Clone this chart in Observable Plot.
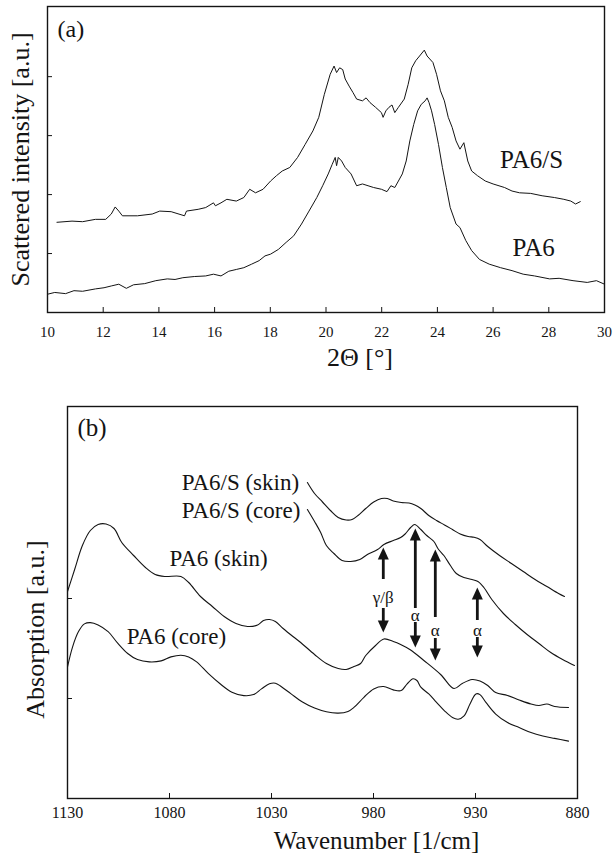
<!DOCTYPE html>
<html>
<head>
<meta charset="utf-8">
<script src="https://cdn.jsdelivr.net/npm/d3@7"></script>
<script src="https://cdn.jsdelivr.net/npm/@observablehq/plot@0.6"></script>
<style>
  body { margin: 0; background: #fff; }
  #fig { width: 615px; }
  #fig svg { display: block; }
</style>
</head>
<body>
<div id="fig"></div>
<script>
// ---------- (a) X-ray scattering: [2θ in degrees, intensity in a.u.] ----------
const pa6sScan = [
  [10.34,1.53],[10.88,1.55],[11.26,1.54],[11.72,1.58],[12.09,1.58],[12.29,1.67],[12.43,1.79],[12.56,1.72],
  [12.69,1.64],[13.23,1.64],[13.76,1.67],[14.03,1.72],[14.44,1.71],[14.92,1.64],[14.99,1.72],[15.41,1.75],
  [15.68,1.78],[15.96,1.86],[16.03,1.81],[16.23,1.86],[16.44,1.92],[16.78,1.89],[17.05,1.95],[17.26,2.09],
  [17.47,2.03],[17.74,2.09],[18.01,2.23],[18.22,2.32],[18.43,2.40],[18.70,2.46],[18.98,2.63],[19.25,2.85],
  [19.53,3.08],[19.74,3.31],[19.94,3.70],[20.15,4.04],[20.29,4.18],[20.38,4.07],[20.49,4.15],[20.60,4.12],
  [20.69,3.96],[20.83,3.84],[20.97,3.73],[21.10,3.62],[21.31,3.59],[21.44,3.64],[21.58,3.56],[21.78,3.48],
  [21.99,3.39],[22.05,3.31],[22.15,3.42],[22.26,3.48],[22.37,3.52],[22.47,3.39],[22.60,3.48],[22.81,3.62],
  [22.95,3.87],[23.08,4.15],[23.22,4.27],[23.36,4.35],[23.53,4.45],[23.63,4.35],[23.84,4.24],[23.97,4.04],
  [24.11,3.76],[24.25,3.59],[24.39,3.31],[24.53,3.14],[24.67,2.91],[24.81,2.77],[24.95,2.88],[25.09,2.57],
  [25.23,2.40],[25.44,2.32],[25.72,2.23],[26.00,2.18],[26.41,2.12],[26.68,2.06],[26.95,2.03],[27.35,2.02],
  [27.76,1.98],[28.20,1.95],[28.54,1.92],[28.79,1.89],[28.96,1.84],[29.13,1.88]
];
const pa6Scan = [
  [10.00,0.31],[10.26,0.34],[10.65,0.32],[10.95,0.37],[11.26,0.36],[11.72,0.40],[12.03,0.42],[12.29,0.45],
  [12.56,0.48],[12.83,0.41],[13.09,0.47],[13.49,0.49],[13.89,0.54],[14.30,0.57],[14.58,0.56],[14.86,0.59],
  [15.27,0.61],[15.68,0.62],[15.96,0.65],[16.23,0.62],[16.51,0.70],[16.78,0.73],[17.05,0.76],[17.33,0.82],
  [17.60,0.88],[17.81,0.96],[18.01,0.99],[18.29,1.07],[18.57,1.19],[18.84,1.30],[19.12,1.50],[19.39,1.72],
  [19.67,1.95],[19.88,2.15],[20.08,2.35],[20.22,2.51],[20.33,2.63],[20.38,2.49],[20.44,2.63],[20.56,2.57],
  [20.69,2.46],[20.90,2.35],[21.10,2.15],[21.31,2.18],[21.51,2.15],[21.71,2.12],[21.99,2.09],[22.19,2.05],
  [22.33,2.15],[22.47,2.12],[22.60,2.23],[22.74,2.35],[22.88,2.57],[23.01,2.91],[23.15,3.19],[23.29,3.42],
  [23.42,3.53],[23.56,3.59],[23.63,3.64],[23.70,3.56],[23.79,3.42],[23.90,3.19],[24.04,2.85],[24.18,2.46],
  [24.32,2.12],[24.46,1.78],[24.67,1.50],[24.81,1.44],[25.02,1.22],[25.23,1.05],[25.51,0.90],[25.86,0.82],
  [26.27,0.76],[26.68,0.71],[27.08,0.65],[27.49,0.62],[28.03,0.57],[28.37,0.58],[28.87,0.54],[29.38,0.51],
  [29.71,0.54],[30.00,0.48]
];
const thetaTicks = [10, 12, 14, 16, 18, 20, 22, 24, 26, 28, 30];
const intensityTicks = [1, 2, 3, 4];
const scanLabels = [
  {text: "PA6/S", theta: 26.25, intensity: 2.58},
  {text: "PA6", theta: 26.70, intensity: 1.10}
];

// ---------- (b) infrared absorption: [wavenumber in 1/cm, absorption in a.u.] ----------
const pa6sSkin = [
  [1012.4,3.16],[1008.9,3.05],[1005.0,2.965],[1001.1,2.88],[997.3,2.81],[993.4,2.785],[990.5,2.79],[987.6,2.83],
  [983.8,2.90],[979.9,2.965],[976.1,3.00],[973.2,3.00],[970.3,2.975],[966.4,2.96],[962.6,2.955],[959.7,2.935],
  [956.8,2.90],[952.9,2.83],[949.1,2.78],[945.2,2.736],[941.3,2.69],[937.5,2.645],[933.6,2.62],[930.7,2.612],
  [927.8,2.59],[924.0,2.52],[918.2,2.43],[912.4,2.35],[906.6,2.27],[900.8,2.19],[895.0,2.12],[889.3,2.05],[886.4,2.02]
];
const pa6sCore = [
  [1012.4,2.89],[1008.9,2.77],[1005.9,2.66],[1003.1,2.53],[999.4,2.45],[995.4,2.38],[991.2,2.37],[986.7,2.39],
  [983.0,2.44],[978.0,2.49],[974.9,2.54],[970.3,2.58],[966.7,2.61],[964.5,2.645],[961.8,2.71],[959.8,2.74],
  [956.8,2.69],[953.9,2.63],[950.4,2.57],[948.1,2.49],[945.5,2.43],[942.3,2.33],[939.4,2.25],[935.7,2.21],
  [931.7,2.19],[928.8,2.17],[925.9,2.11],[922.0,1.99],[916.3,1.85],[910.5,1.74],[904.7,1.64],[898.9,1.55],
  [893.1,1.46],[887.3,1.39],[881.5,1.33]
];
const pa6Skin = [
  [1130,2.07],[1126.5,2.29],[1122.7,2.53],[1118.8,2.68],[1115.0,2.74],[1111.1,2.745],[1107.2,2.70],[1103.4,2.56],
  [1097.6,2.43],[1091.8,2.31],[1087.0,2.24],[1082.2,2.22],[1074.4,2.22],[1070.6,2.16],[1064.8,2.02],[1059.0,1.92],
  [1053.2,1.82],[1047.4,1.75],[1041.7,1.72],[1036.8,1.735],[1033.9,1.78],[1031.0,1.79],[1028.1,1.77],[1024.3,1.70],
  [1019.5,1.62],[1015.7,1.56],[1008.9,1.44],[1003.1,1.35],[997.3,1.30],[993.4,1.29],[989.6,1.32],[986.3,1.35],
  [983.8,1.43],[979.0,1.53],[974.9,1.595],[970.3,1.57],[966.7,1.54],[961.8,1.485],[955.3,1.38],[947.1,1.24],
  [940.6,1.10],[936.5,1.15],[931.7,1.19],[927.8,1.175],[924.0,1.13],[920.1,1.06],[914.3,1.03],[908.6,0.985],
  [902.8,0.945],[898.9,0.93],[895.0,0.945],[891.2,0.92],[884.4,0.91]
];
const pa6Core = [
  [1130,1.315],[1127.5,1.517],[1124.6,1.669],[1121.7,1.746],[1118.8,1.759],[1115.0,1.736],[1110.1,1.669],[1105.3,1.551],
  [1100.5,1.450],[1095.7,1.389],[1089.9,1.366],[1084.1,1.376],[1079.3,1.416],[1074.4,1.433],[1070.6,1.416],[1066.7,1.366],
  [1060.9,1.248],[1055.2,1.147],[1049.4,1.063],[1043.6,1.029],[1038.8,1.039],[1034.9,1.096],[1031.0,1.147],[1028.1,1.153],
  [1025.3,1.120],[1020.4,1.046],[1014.6,0.962],[1008.9,0.904],[1003.1,0.867],[997.3,0.854],[992.5,0.871],[989.6,0.911],
  [984.7,1.012],[979.9,1.096],[975.1,1.120],[970.3,1.086],[966.4,1.079],[963.5,1.147],[960.6,1.197],[958.7,1.180],
  [956.8,1.113],[952.9,1.046],[949.1,0.961],[945.2,0.877],[941.3,0.810],[938.5,0.793],[935.6,0.827],[932.7,0.945],
  [929.8,1.046],[927.8,1.039],[924.9,0.961],[920.1,0.844],[914.3,0.759],[908.6,0.709],[902.8,0.659],[897.0,0.625],
  [891.2,0.601],[884.4,0.574]
];
const wavenumberTicks = [1130, 1080, 1030, 980, 930, 880];
const absorptionTicks = [1, 2];
const spectrumLabels = [
  {text: "PA6/S (skin)", wn: 1074, abs: 3.157},
  {text: "PA6/S (core)", wn: 1074, abs: 2.877},
  {text: "PA6 (skin)", wn: 1080, abs: 2.397},
  {text: "PA6 (core)", wn: 1101, abs: 1.617}
];
// band assignments: up arrow from upFrom to upTip, down arrow from downFrom to downTip
const bands = [
  {wn: 975.2, phase: "γ/β", upTip: 2.51, upFrom: 2.19, at: 2.01, downFrom: 1.90, downTip: 1.66},
  {wn: 959.5, phase: "α",   upTip: 2.70, upFrom: 1.90, at: 1.83, downFrom: 1.76, downTip: 1.51},
  {wn: 949.7, phase: "α",   upTip: 2.49, upFrom: 1.81, at: 1.68, downFrom: 1.60, downTip: 1.38},
  {wn: 929.1, phase: "α",   upTip: 2.11, upFrom: 1.78, at: 1.68, downFrom: 1.61, downTip: 1.41}
];

const serif = "Liberation Serif";
const ink = "#141414";
const txt = {fontFamily: serif, fill: ink};

const scans = [
  ...pa6sScan.map(([theta, intensity]) => ({sample: "PA6/S", theta, intensity})),
  ...pa6Scan.map(([theta, intensity]) => ({sample: "PA6", theta, intensity}))
];

const plotA = Plot.plot({
  width: 615, height: 380,
  marginLeft: 47, marginRight: 11, marginTop: 6, marginBottom: 68,
  style: {fontFamily: serif, color: ink, background: "#fff", overflow: "visible"},
  x: {domain: [10, 30], label: null},
  y: {domain: [0, 5.19], axis: null},
  marks: [
    Plot.ruleX(thetaTicks.slice(1, -1), {stroke: ink, insetTop: 301}),
    Plot.ruleY(intensityTicks, {stroke: ink, insetRight: 552}),
    Plot.frame({stroke: ink, strokeWidth: 1.4}),
    Plot.line(scans, {x: "theta", y: "intensity", z: "sample", stroke: ink, strokeWidth: 1}),
    Plot.axisX({ticks: thetaTicks, tickFormat: d => String(d), tickSize: 0, tickPadding: 14, fontSize: 15, ...txt, label: null}),
    Plot.text(scanLabels, {x: "theta", y: "intensity", text: "text", textAnchor: "start", lineAnchor: "middle", fontSize: 25, ...txt}),
    Plot.text(["(a)"], {frameAnchor: "top-left", dx: 10, dy: 23, textAnchor: "start", lineAnchor: "middle", fontSize: 24, ...txt}),
    Plot.text(["2Θ [°]"], {frameAnchor: "bottom", dx: 34, dy: 45, textAnchor: "middle", lineAnchor: "middle", fontSize: 26, ...txt}),
    Plot.text(["Scattered intensity [a.u.]"], {frameAnchor: "left", dx: -27, rotate: -90, textAnchor: "middle", lineAnchor: "middle", fontSize: 26, ...txt})
  ]
});

const spectra = [
  ...pa6sSkin.map(([wn, abs]) => ({sample: "PA6/S (skin)", wn, abs})),
  ...pa6sCore.map(([wn, abs]) => ({sample: "PA6/S (core)", wn, abs})),
  ...pa6Skin.map(([wn, abs]) => ({sample: "PA6 (skin)", wn, abs})),
  ...pa6Core.map(([wn, abs]) => ({sample: "PA6 (core)", wn, abs}))
];

// filled arrowhead with its tip at the origin, pointing up
const arrowHead = {
  draw(context) {
    context.moveTo(0, 0);
    context.lineTo(-5.5, 12);
    context.lineTo(5.5, 12);
    context.closePath();
  }
};

const plotB = Plot.plot({
  width: 615, height: 480,
  marginLeft: 67, marginRight: 38, marginTop: 26, marginBottom: 62,
  style: {fontFamily: serif, color: ink, background: "#fff", overflow: "visible"},
  x: {domain: [1130, 880], label: null},
  y: {domain: [0, 3.92], axis: null},
  marks: [
    Plot.ruleX(wavenumberTicks.slice(1, -1), {stroke: ink, insetTop: 387}),
    Plot.ruleY(absorptionTicks, {stroke: ink, insetRight: 505}),
    Plot.frame({stroke: ink, strokeWidth: 1.4}),
    Plot.line(spectra, {x: "wn", y: "abs", z: "sample", stroke: ink, strokeWidth: 1.1, curve: "catmull-rom"}),
    Plot.ruleX(bands, {x: "wn", y1: "upTip", y2: "upFrom", insetTop: 9, stroke: ink, strokeWidth: 2.8}),
    Plot.ruleX(bands, {x: "wn", y1: "downFrom", y2: "downTip", insetBottom: 9, stroke: ink, strokeWidth: 2.8}),
    Plot.dot(bands, {x: "wn", y: "upTip", symbol: arrowHead, fill: ink, stroke: "none"}),
    Plot.dot(bands, {x: "wn", y: "downTip", symbol: arrowHead, rotate: 180, fill: ink, stroke: "none"}),
    Plot.text(bands, {x: "wn", y: "at", text: "phase", lineAnchor: "middle", fontSize: 17, ...txt}),
    Plot.axisX({ticks: wavenumberTicks, tickFormat: d => String(d), tickSize: 0, tickPadding: 8, fontSize: 16, ...txt, label: null}),
    Plot.text(spectrumLabels, {x: "wn", y: "abs", text: "text", textAnchor: "start", lineAnchor: "middle", fontSize: 23, ...txt}),
    Plot.text(["(b)"], {frameAnchor: "top-left", dx: 10, dy: 21, textAnchor: "start", lineAnchor: "middle", fontSize: 25, ...txt}),
    Plot.text(["Wavenumber [1/cm]"], {frameAnchor: "bottom", dx: 54, dy: 42, textAnchor: "middle", lineAnchor: "middle", fontSize: 25, ...txt}),
    Plot.text(["Absorption [a.u.]"], {frameAnchor: "left", dx: -32, dy: 27, rotate: -90, textAnchor: "middle", lineAnchor: "middle", fontSize: 26, ...txt})
  ]
});

const fig = document.getElementById("fig");
fig.append(plotA, plotB);
</script>
</body>
</html>
